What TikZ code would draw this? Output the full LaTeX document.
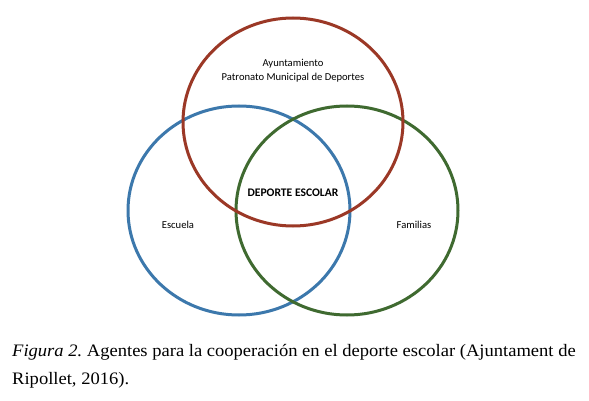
\documentclass[tikz,border=0pt]{standalone}
\usepackage{fontspec}
\setmainfont{Liberation Serif}[FakeStretch=1.06]
\newfontfamily\labelfont{Carlito}
\definecolor{cred}{HTML}{9B3826}
\definecolor{cblue}{HTML}{3C78AC}
\definecolor{cgreen}{HTML}{3F6A30}
\frenchspacing
\begin{document}
\begin{tikzpicture}[x=1pt,y=-1pt,
  ring/.style={line width=3pt},
  lbl/.style={font=\labelfont\fontsize{10.6}{12}\selectfont, inner sep=0pt, align=center},
  captext/.style={font=\fontsize{17.5}{27}\selectfont, inner sep=0pt, anchor=base west}]
\useasboundingbox (0,0) rectangle (589,401);
\fill[white] (0,0) rectangle (589,401);
\draw[ring, cblue] (239,210.5) ellipse [x radius=111, y radius=104.5];
\draw[ring, cgreen] (347,210.5) ellipse [x radius=111, y radius=104.5];
\draw[ring, cred] (293,122) ellipse [x radius=110, y radius=104];
\node[lbl] (top) at (293,71) {Ayuntamiento\\[2pt]Patronato Municipal de Deportes};
\node[lbl, font=\labelfont\bfseries\fontsize{11.6}{12}\selectfont] (center) at (293,193) {DEPORTE ESCOLAR};
\node[lbl] (esc) at (178,225) {Escuela};
\node[lbl] (fam) at (414,225) {Familias};
\node[captext] (cap1) at (12,356) {\textit{Figura 2.} Agentes para la cooperación en el deporte escolar (Ajuntament de};
\node[captext] (cap2) at (12,384) {Ripollet, 2016).};
\end{tikzpicture}
\end{document}
